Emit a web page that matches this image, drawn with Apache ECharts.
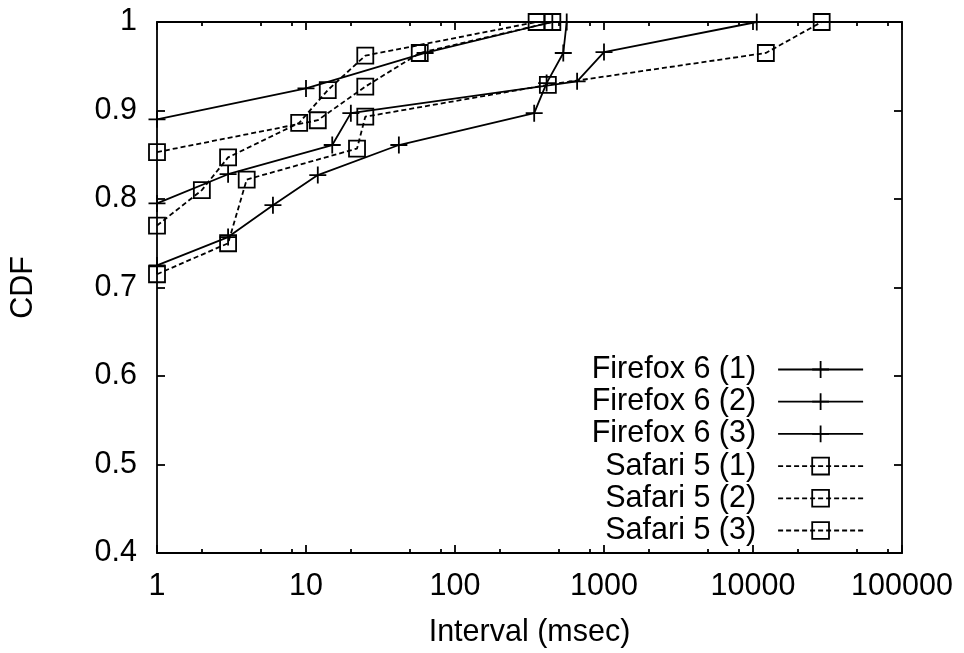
<!DOCTYPE html>
<html>
<head>
<meta charset="utf-8">
<script src="https://cdn.jsdelivr.net/npm/echarts@6/dist/echarts.min.js"></script>
<style>
  html, body { margin: 0; padding: 0; background: #fff; }
  #chart { width: 964px; height: 653px; }
</style>
</head>
<body>
<div id="chart"></div>
<script>
// Interval CDFs per browser run (x: interval in msec, y: cumulative fraction)
const firefox1X = [1, 10, 63, 450];
const firefox1Y = [0.890, 0.925, 0.965, 1.0];

const firefox2X = [1, 3, 15, 20, 660, 1000, 10600];
const firefox2Y = [0.795, 0.828, 0.861, 0.897, 0.933, 0.966, 1.0];

const firefox3X = [1, 3, 6, 12, 42, 340, 412, 533, 562];
const firefox3Y = [0.725, 0.757, 0.793, 0.827, 0.861, 0.897, 0.931, 0.965, 1.0];

const safari1X = [1, 12, 25, 58, 450];
const safari1Y = [0.853, 0.889, 0.927, 0.965, 1.0];

const safari2X = [1, 2, 3, 9, 14, 25, 353];
const safari2Y = [0.770, 0.810, 0.847, 0.886, 0.923, 0.962, 1.0];

const safari3X = [1, 3, 4, 22, 25, 420, 12200, 28900];
const safari3Y = [0.715, 0.750, 0.822, 0.857, 0.893, 0.929, 0.965, 1.0];

const seriesNames = ['Firefox 6 (1)', 'Firefox 6 (2)', 'Firefox 6 (3)',
                     'Safari 5 (1)', 'Safari 5 (2)', 'Safari 5 (3)'];

const xMajorTicks = [1, 10, 100, 1000, 10000, 100000];
const xMinorTicks = [2, 5, 8, 20, 50, 80, 200, 500, 800,
                     2000, 5000, 8000, 20000, 50000, 80000];

const FONT = '"Liberation Sans", Arial, Helvetica, sans-serif';
const FONT_SIZE = 30.5;
const LINE_W = 1.8;
const PLUS = 'path://M0,8L16,8M8,0L8,16';

function pairs(xs, ys) {
  return xs.map(function (x, i) { return [x, ys[i]]; });
}

function makeSeries(name, xs, ys, dashed) {
  return {
    name: name,
    type: 'line',
    xAxisIndex: 0,
    yAxisIndex: 0,
    data: pairs(xs, ys),
    symbol: dashed ? 'rect' : PLUS,
    symbolSize: dashed ? 16 : 17,
    showAllSymbol: true,
    clip: false,
    silent: true,
    lineStyle: { color: '#000', width: LINE_W, type: dashed ? [5, 3] : 'solid' },
    itemStyle: { color: 'transparent', borderColor: '#000', borderWidth: LINE_W },
    emphasis: { disabled: true }
  };
}

const axisLine = { show: true, lineStyle: { color: '#000', width: LINE_W } };
const textBase = { color: '#000', fontFamily: FONT, fontSize: FONT_SIZE };

function xAxisDef(position, major, withLabels) {
  const ticks = major ? xMajorTicks : xMinorTicks;
  return {
    type: 'log',
    logBase: 10,
    min: 1,
    max: 100000,
    position: position,
    gridIndex: 0,
    axisLine: major ? axisLine : { show: false },
    axisTick: {
      show: true, inside: true, length: major ? 8 : 4,
      customValues: ticks,
      lineStyle: { color: '#000', width: LINE_W }
    },
    axisLabel: withLabels ? Object.assign({
      show: true, margin: 18,
      customValues: xMajorTicks,
      formatter: function (v) { return String(Math.round(v)); }
    }, textBase) : { show: false },
    splitLine: { show: false },
    minorTick: { show: false },
    name: withLabels ? 'Interval (msec)' : '',
    nameLocation: 'middle',
    nameGap: 64,
    nameTextStyle: textBase
  };
}

function yAxisDef(position, withLabels) {
  return {
    type: 'value',
    min: 0.4,
    max: 1,
    interval: 0.1,
    position: position,
    gridIndex: 0,
    axisLine: axisLine,
    axisTick: { show: true, inside: true, length: 8, lineStyle: { color: '#000', width: LINE_W } },
    axisLabel: withLabels ? Object.assign({
      show: true, margin: 20,
      formatter: function (v) { return String(Number(v.toFixed(1))); }
    }, textBase) : { show: false },
    splitLine: { show: false },
    name: withLabels ? 'CDF' : '',
    nameLocation: 'middle',
    nameGap: 118,
    nameRotate: 90,
    nameTextStyle: textBase
  };
}

const chart = echarts.init(document.getElementById('chart'), null, { renderer: 'canvas' });

chart.setOption({
  animation: false,
  backgroundColor: '#fff',
  grid: { left: 157, right: 62, top: 22, bottom: 100, containLabel: false, outerBoundsMode: 'none' },
  xAxis: [
    xAxisDef('bottom', true, true),
    xAxisDef('top', true, false),
    xAxisDef('bottom', false, false),
    xAxisDef('top', false, false)
  ],
  yAxis: [
    yAxisDef('left', true),
    yAxisDef('right', false)
  ],
  legend: {
    orient: 'vertical',
    right: 100,
    top: 354,
    align: 'right',
    padding: 0,
    itemWidth: 85,
    itemHeight: 21,
    itemGap: 1.2,
    selectedMode: false,
    textStyle: Object.assign({ padding: [0, 17, 0, 0] }, textBase),
    lineStyle: { width: LINE_W },
    itemStyle: { borderWidth: LINE_W },
    data: seriesNames
  },
  series: [
    makeSeries(seriesNames[0], firefox1X, firefox1Y, false),
    makeSeries(seriesNames[1], firefox2X, firefox2Y, false),
    makeSeries(seriesNames[2], firefox3X, firefox3Y, false),
    makeSeries(seriesNames[3], safari1X, safari1Y, true),
    makeSeries(seriesNames[4], safari2X, safari2Y, true),
    makeSeries(seriesNames[5], safari3X, safari3Y, true)
  ]
});
</script>
</body>
</html>
